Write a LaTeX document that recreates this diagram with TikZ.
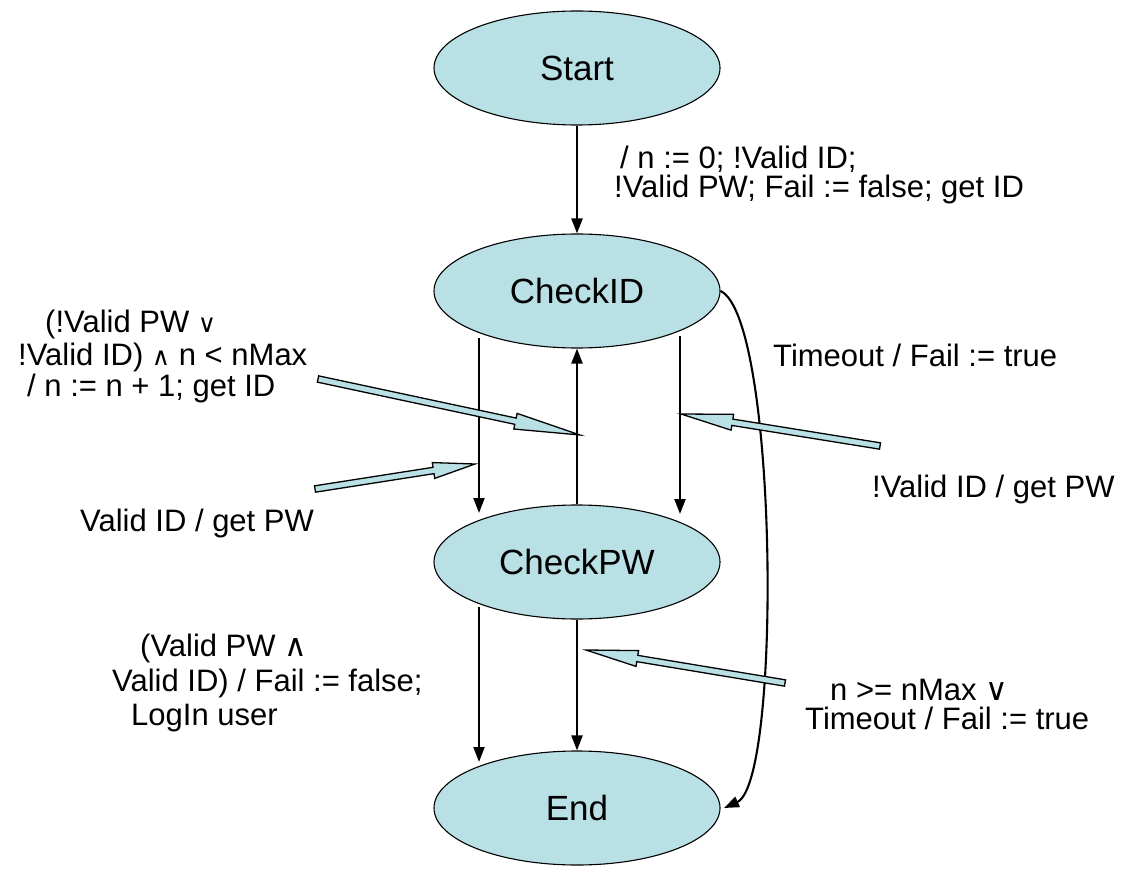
\documentclass[tikz,border=0pt]{standalone}
\usepackage{fontspec}
\setmainfont{Liberation Sans}
\newfontfamily\symfont{DejaVu Sans}
\usetikzlibrary{arrows.meta,calc,shapes.geometric}
\definecolor{stfill}{RGB}{185,224,228}
\tikzset{
  state/.style={ellipse, draw=black, line width=1.1pt, fill=stfill,
    minimum width=286pt, minimum height=114pt, inner sep=0pt,
    font=\fontsize{35}{38}\selectfont},
  trans/.style={line width=2.1pt, -{Triangle[length=15pt,width=11pt]}},
  lbl/.style={anchor=base west, inner sep=0pt, font=\fontsize{31}{33}\selectfont},
  callout/.style={draw=black, line width=1.3pt, fill=stfill, line join=miter}
}
\newcommand\blockarrow[3]{%
  \coordinate (bah) at ($(#2)!#3!(#1)$);
  \draw[callout] ($(#1)!3.2pt!90:(#2)$) -- ($(bah)!3.2pt!90:(#2)$) -- ($(bah)!8pt!90:(#2)$)
    -- (#2) -- ($(bah)!8pt!-90:(#2)$) -- ($(bah)!3.2pt!-90:(#2)$) -- ($(#1)!3.2pt!-90:(#2)$) -- cycle;}
\newcommand\myvee{{\symfont\fontsize{31}{31}\selectfont ∨}}
\newcommand\mywedge{{\symfont\fontsize{31}{31}\selectfont ∧}}
\newcommand\smvee{{\symfont\fontsize{25}{25}\selectfont ∨}}
\newcommand\smwedge{{\symfont\fontsize{25}{25}\selectfont ∧}}
\begin{document}
\begin{tikzpicture}[x=1pt,y=-1pt]
\useasboundingbox (0,0) rectangle (1137,874);
\node[state] (start) at (577,68) {Start};
\node[state] (cid) at (577,291) {CheckID};
\node[state] (cpw) at (577,562) {CheckPW};
\node[state] (end) at (577,808) {End};

% connector end points
\coordinate (a1s) at (479,338);
\coordinate (a1e) at (479,513);
\coordinate (a3s) at (680,336);
\coordinate (a3e) at (680,514);
\coordinate (a5s) at (479,607);
\coordinate (a5e) at (479,762);
\coordinate (a7e) at (724,808);

% connectors
\draw[trans] (start.south) -- (cid.north);
\draw[trans] (a1s) -- (a1e);
\draw[trans] (cpw.north) -- (cid.south);
\draw[trans] (a3s) -- (a3e);
\draw[trans] (a5s) -- (a5e);
\draw[trans] (cpw.south) -- (end.north);
\draw[trans] (cid.east) .. controls (778,318) and (782,782) .. (a7e);

% callout arrows
\coordinate (c1s) at (318,379);
\coordinate (c1t) at (580,435);
\coordinate (c2s) at (315,489);
\coordinate (c2t) at (475,464);
\coordinate (c3s) at (880,446);
\coordinate (c3t) at (681,414);
\coordinate (c4s) at (785,683);
\coordinate (c4t) at (586,650);
\blockarrow{c1s}{c1t}{66pt}
\blockarrow{c2s}{c2t}{42pt}
\blockarrow{c3s}{c3t}{52pt}
\blockarrow{c4s}{c4t}{52pt}

% labels
\node[lbl] (t1a) at (620,169) {/ n := 0; !Valid ID;};
\node[lbl] (t1b) at (614,198) {!Valid PW; Fail := false; get ID};
\node[lbl] (t2) at (773,366) {Timeout / Fail := true};
\node[lbl] (t3a) at (45,333) {(!Valid PW \smvee};
\node[lbl] (t3b) at (18,365) {!Valid ID) \smwedge\ n < nMax};
\node[lbl] (t3c) at (27,396) {/ n := n + 1; get ID};
\node[lbl] (t4) at (80,531) {Valid ID / get PW};
\node[lbl] (t5) at (872,497) {!Valid ID / get PW};
\node[lbl] (t6a) at (140,656) {(Valid PW \mywedge};
\node[lbl] (t6b) at (112,691) {Valid ID) / Fail := false;};
\node[lbl] (t6c) at (131,725) {LogIn user};
\node[lbl] (t7a) at (830,700) {n >= nMax \myvee};
\node[lbl] (t7b) at (805,729) {Timeout / Fail := true};
\end{tikzpicture}
\end{document}
